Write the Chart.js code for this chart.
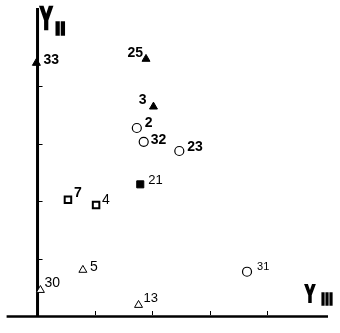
<!DOCTYPE html>
<html>
<head>
<meta charset="utf-8">
<script src="https://cdn.jsdelivr.net/npm/chart.js@4/dist/chart.umd.min.js"></script>
<style>
  html, body { margin: 0; padding: 0; background: #fff; }
  #wrap { width: 340px; height: 333px; position: relative; }
</style>
</head>
<body>
<div id="wrap"><canvas id="plot"></canvas></div>
<script>
// --- data (axis units = tick spacing) ---
const filledTriIds = ['33', '25', '3'];
const filledTriX = [-0.02, 1.89, 2.02];
const filledTriY = [4.40, 4.47, 3.64];

const circleIds = ['2', '32', '23', '31'];
const circleX = [1.73, 1.85, 2.47, 3.65];
const circleY = [3.27, 3.03, 2.87, 0.77];

const squareIds = ['7', '4'];
const squareX = [0.53, 1.02];
const squareY = [2.02, 1.93];

const filledSquareIds = ['21'];
const filledSquareX = [1.79];
const filledSquareY = [2.29];

const openTriIds = ['30', '5', '13'];
const openTriX = [0.05, 0.79, 1.76];
const openTriY = [0.45, 0.80, 0.19];

const xTicks = [1, 2, 3, 4];
const yTicks = [1, 2, 3, 4];
const xAxisTitle = ['Y', 'III'];
const yAxisTitle = ['Y', 'II'];

const FONT = '"Liberation Sans", Arial, sans-serif';

// label placement: [dx, dy, align, font]
const labelPos = {
    '33': [7, -3, 'left', 'bold 14px ' + FONT],
    '25': [-3, -6, 'right', 'bold 14px ' + FONT],
    '3': [-7, -7, 'right', 'bold 14px ' + FONT],
    '2': [8, -5, 'left', 'bold 14px ' + FONT],
    '32': [7, -2, 'left', 'bold 14px ' + FONT],
    '23': [8, -4, 'left', 'bold 14px ' + FONT],
    '21': [8, -4, 'left', '13px ' + FONT],
    '7': [6, -7, 'left', 'bold 14px ' + FONT],
    '4': [6, -5, 'left', '14px ' + FONT],
    '5': [7, -3, 'left', '14px ' + FONT],
    '30': [4, -7, 'left', '14px ' + FONT],
    '13': [5, -7, 'left', '13px ' + FONT],
    '31': [10, -5, 'left', '11px ' + FONT]
};

const toPoints = (xs, ys) => xs.map((x, i) => ({ x: x, y: ys[i] }));

const axesPlugin = {
    id: 'crossAxes',
    beforeDatasetsDraw(chart) {
        const ctx = chart.ctx;
        const xs = chart.scales.x;
        const ys = chart.scales.y;
        const x0 = xs.getPixelForValue(0);
        const y0 = ys.getPixelForValue(0);
        ctx.save();
        ctx.strokeStyle = '#000';
        ctx.lineWidth = 3;
        ctx.beginPath();
        ctx.moveTo(x0, ys.top);
        ctx.lineTo(x0, y0 + 1);
        ctx.stroke();
        ctx.lineWidth = 2.5;
        ctx.beginPath();
        ctx.moveTo(xs.left, y0 + 0.5);
        ctx.lineTo(xs.right, y0 + 0.5);
        ctx.stroke();

        ctx.lineWidth = 1;
        yTicks.forEach(t => {
            const py = Math.round(ys.getPixelForValue(t)) + 0.5;
            ctx.beginPath();
            ctx.moveTo(x0 + 1, py);
            ctx.lineTo(x0 + 5, py);
            ctx.stroke();
        });
        xTicks.forEach(t => {
            const px = Math.round(xs.getPixelForValue(t)) + 0.5;
            ctx.beginPath();
            ctx.moveTo(px, y0 - 1);
            ctx.lineTo(px, y0 - 5);
            ctx.stroke();
        });

        // axis titles: heavy condensed "Y" with bar-like roman subscript
        ctx.fillStyle = '#000';
        ctx.textBaseline = 'alphabetic';
        ctx.textAlign = 'left';
        ctx.lineJoin = 'miter';
        const drawTitle = (main, sub, x, y, size, sx, subX, subY, subSize, subSx, weight) => {
            ctx.save();
            ctx.translate(x, y);
            ctx.scale(sx, 1);
            ctx.font = 'bold ' + size + 'px ' + FONT;
            ctx.lineWidth = weight;
            ctx.fillText(main, 0, 0);
            ctx.strokeText(main, 0, 0);
            ctx.restore();
            ctx.save();
            ctx.translate(subX, subY);
            ctx.scale(subSx, 1);
            ctx.font = 'bold ' + subSize + 'px ' + FONT;
            ctx.lineWidth = weight * 0.6;
            ctx.fillText(sub, 0, 0);
            ctx.strokeText(sub, 0, 0);
            ctx.restore();
        };
        drawTitle(yAxisTitle[0], yAxisTitle[1], 40, 29, 31, 0.6, 55, 35, 19, 1.0, 2.6);
        drawTitle(xAxisTitle[0], xAxisTitle[1], 305, 302, 24, 0.62, 321, 305, 17, 0.85, 2.2);
        ctx.restore();
    },
    afterDatasetsDraw(chart) {
        const ctx = chart.ctx;
        ctx.save();
        ctx.fillStyle = '#000';
        ctx.textBaseline = 'middle';
        chart.data.datasets.forEach((ds, di) => {
            const meta = chart.getDatasetMeta(di);
            ds.ids.forEach((id, i) => {
                const el = meta.data[i];
                const p = labelPos[id];
                ctx.font = p[3];
                ctx.textAlign = p[2];
                ctx.fillText(id, el.x + p[0], el.y + p[1]);
            });
        });
        ctx.restore();
    }
};

new Chart(document.getElementById('plot'), {
    type: 'scatter',
    data: {
        datasets: [
            {
                ids: filledTriIds,
                data: toPoints(filledTriX, filledTriY),
                pointStyle: 'triangle',
                pointRadius: 4.6,
                backgroundColor: '#000',
                borderColor: '#000',
                borderWidth: 1
            },
            {
                ids: circleIds,
                data: toPoints(circleX, circleY),
                pointStyle: 'circle',
                pointRadius: 4.5,
                backgroundColor: '#fff',
                borderColor: '#000',
                borderWidth: 1.2
            },
            {
                ids: squareIds,
                data: toPoints(squareX, squareY),
                pointStyle: 'rect',
                pointRadius: 4.6,
                backgroundColor: '#fff',
                borderColor: '#000',
                borderWidth: 2
            },
            {
                ids: filledSquareIds,
                data: toPoints(filledSquareX, filledSquareY),
                pointStyle: 'rect',
                pointRadius: 5,
                backgroundColor: '#000',
                borderColor: '#000',
                borderWidth: 1
            },
            {
                ids: openTriIds,
                data: toPoints(openTriX, openTriY),
                pointStyle: 'triangle',
                pointRadius: 4.6,
                backgroundColor: '#fff',
                borderColor: '#000',
                borderWidth: 1
            }
        ]
    },
    options: {
        responsive: true,
        maintainAspectRatio: false,
        animation: false,
        layout: { padding: { left: 6, right: 12, top: 8, bottom: 17 } },
        clip: false,
        scales: {
            x: { type: 'linear', min: -0.539, max: 5.061, display: false },
            y: { type: 'linear', min: 0, max: 5.357, display: false }
        },
        plugins: {
            legend: { display: false },
            tooltip: { enabled: false }
        }
    },
    plugins: [axesPlugin]
});
</script>
</body>
</html>
